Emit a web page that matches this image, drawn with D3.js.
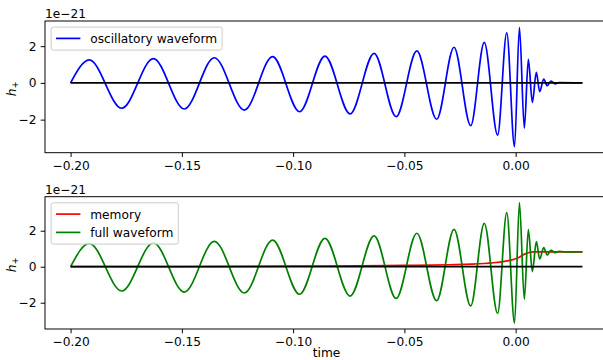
<!DOCTYPE html>
<html>
<head>
<meta charset="utf-8">
<script src="https://cdn.jsdelivr.net/npm/d3@7"></script>
<style>
  html, body { margin: 0; padding: 0; background: #fff; }
  svg { display: block; font-family: "DejaVu Sans", sans-serif; }
</style>
</head>
<body>
<div id="chart"></div>
<script>
// ---------------- data ----------------
// times of the extrema of the oscillatory waveform (plus start and flat tail)
const oscTimes = [-0.2, -0.1916, -0.1770, -0.1628, -0.1489, -0.1354, -0.1219, -0.1092, -0.0971,
  -0.0857, -0.0744, -0.0636, -0.0537, -0.0444, -0.0355, -0.0277, -0.0202, -0.0141, -0.0081,
  -0.0040, -0.0005, 0.0017, 0.0039, 0.0057, 0.0075, 0.0093, 0.0108, 0.0126, 0.0142, 0.0159,
  0.0177, 0.0195, 0.030];
// oscillatory waveform values (units of 1e-21)
const oscValues = [0, 1.25, -1.38, 1.32, -1.42, 1.37, -1.48, 1.43, -1.57,
  1.46, -1.69, 1.61, -1.84, 1.74, -1.98, 1.94, -2.33, 2.21, -2.84,
  2.73, -3.47, 3.03, -2.47, 1.28, -1.06, 0.58, -0.48, 0.21, -0.15, 0.10,
  -0.05, 0.02, 0];
// full waveform values (same extremum times, units of 1e-21)
const fullTimes = [-0.2, -0.1916, -0.1770, -0.1628, -0.1489, -0.1354, -0.1219, -0.1092, -0.0971,
  -0.0857, -0.0744, -0.0636, -0.0537, -0.0444, -0.0355, -0.0277, -0.0202, -0.0141, -0.0081,
  -0.0040, -0.0005, 0.0017, 0.0039, 0.0057, 0.0075, 0.0093, 0.0108, 0.0126, 0.0142, 0.0159,
  0.0177, 0.0195, 0.022, 0.030];
const fullValues = [0, 1.30, -1.35, 1.33, -1.41, 1.41, -1.46, 1.48, -1.53,
  1.58, -1.63, 1.71, -1.76, 1.86, -1.89, 2.08, -2.18, 2.41, -2.60,
  3.01, -3.13, 3.56, -1.81, 2.06, -0.27, 1.39, 0.43, 1.06, 0.65, 0.93,
  0.78, 0.85, 0.83, 0.83];
// memory
const memTimes  = [-0.2, -0.15, -0.1, -0.07, -0.05, -0.03, -0.02, -0.01, -0.005, -0.002, 0.0, 0.002, 0.004, 0.006, 0.008, 0.012, 0.03];
const memValues = [0, 0.01, 0.03, 0.05, 0.07, 0.11, 0.14, 0.22, 0.30, 0.37, 0.44, 0.56, 0.70, 0.79, 0.82, 0.83, 0.83];
// zero reference line
const zeroTimes = [-0.2, 0.03];
const zeroValues = [0, 0];

// axes settings
const xDomain = [-0.2115, 0.0415];
const xTicks = [-0.20, -0.15, -0.10, -0.05, 0.00];
const yTicks = [-2, 0, 2];
const yDomainTop = [-3.80, 3.37];
const yDomainBottom = [-3.46, 3.89];
const offsetText = "1e\u221221";

// ---------------- layout ----------------
const W = 603, H = 360;
const FS = 12.2;         // font size px
const LW = 1.7;          // line width
const left = 45, right = 608;
const panels = [
  { top: 21, bottom: 152.7, yDomain: yDomainTop,
    series: [{ t: oscTimes, v: oscValues, color: "#0000ff", label: "oscillatory waveform" }] },
  { top: 196.7, bottom: 329, yDomain: yDomainBottom,
    series: [{ t: memTimes, v: memValues, color: "#ff0000", label: "memory" },
             { t: fullTimes, v: fullValues, color: "#008000", label: "full waveform" }] }
];

const svg = d3.select("#chart").append("svg").attr("width", W).attr("height", H);
const fmtX = d => d3.format(".2f")(d).replace("-", "\u2212");
const fmtY = d => String(d).replace("-", "\u2212");

const x = d3.scaleLinear().domain(xDomain).range([left, right]);

panels.forEach((p, pi) => {
  const y = d3.scaleLinear().domain(p.yDomain).range([p.bottom, p.top]);
  const g = svg.append("g");
  const clipId = "clip" + pi;
  svg.append("clipPath").attr("id", clipId).append("rect")
    .attr("x", left).attr("y", p.top).attr("width", right - left).attr("height", p.bottom - p.top);

  const line = d3.line().x(d => x(d[0])).y(d => y(d[1])).curve(d3.curveMonotoneX);
  const plot = g.append("g").attr("clip-path", `url(#${clipId})`);
  p.series.forEach(s => {
    plot.append("path").datum(s.t.map((t, i) => [t, s.v[i]]))
      .attr("d", line).attr("fill", "none").attr("stroke", s.color)
      .attr("stroke-width", LW).attr("stroke-linejoin", "round").attr("stroke-linecap", "butt");
  });
  plot.append("path").datum(zeroTimes.map((t, i) => [t, zeroValues[i]]))
    .attr("d", d3.line().x(d => x(d[0])).y(d => y(d[1])))
    .attr("fill", "none").attr("stroke", "#000").attr("stroke-width", LW);

  // axes
  const xAxis = d3.axisBottom(x).tickValues(xTicks).tickFormat(fmtX).tickSizeInner(4.3).tickSizeOuter(0).tickPadding(4.3);
  const gx = g.append("g").attr("transform", `translate(0,${p.bottom})`).call(xAxis);
  const yAxis = d3.axisLeft(y).tickValues(yTicks).tickFormat(fmtY).tickSizeInner(4.3).tickSizeOuter(0).tickPadding(4.3);
  const gy = g.append("g").attr("transform", `translate(${left},0)`).call(yAxis);
  [gx, gy].forEach(a => {
    a.select(".domain").remove();
    a.selectAll("line").attr("stroke", "#000").attr("stroke-width", 0.98);
    a.selectAll("text").attr("font-size", FS).attr("fill", "#000").attr("font-family", "DejaVu Sans");
  });

  // spines
  g.append("rect").attr("x", left).attr("y", p.top).attr("width", right - left).attr("height", p.bottom - p.top)
    .attr("fill", "none").attr("stroke", "#000").attr("stroke-width", 0.98);

  // offset text
  g.append("text").attr("x", left).attr("y", p.top - 2.6).attr("font-size", FS).attr("fill", "#000").text(offsetText);

  // y label h_+
  const yl = g.append("text")
    .attr("transform", `translate(15.5,${(p.top + p.bottom) / 2 + 2}) rotate(-90)`)
    .attr("text-anchor", "middle").attr("font-size", FS).attr("fill", "#000");
  yl.append("tspan").attr("font-style", "italic").text("h");
  yl.append("tspan").attr("font-size", FS * 0.7).attr("dy", 2.6).text("+");

  // legend
  const pad = 4.9, handle = 24.4, textPad = 9.8, rowH = 18.3;
  const lx = left + 6.1, ly = p.top + 6.1;
  const lg = g.append("g");
  const box = lg.append("rect").attr("x", lx).attr("y", ly).attr("rx", 2.4).attr("ry", 2.4)
    .attr("fill", "#fff").attr("fill-opacity", 0.8).attr("stroke", "#cccccc").attr("stroke-width", 1);
  let maxW = 0;
  p.series.forEach((s, i) => {
    const cy = ly + pad + 6.4 + i * rowH;
    lg.append("line").attr("x1", lx + pad).attr("x2", lx + pad + handle).attr("y1", cy).attr("y2", cy)
      .attr("stroke", s.color).attr("stroke-width", LW);
    const t = lg.append("text").attr("x", lx + pad + handle + textPad).attr("y", cy + 4.4)
      .attr("font-size", FS).attr("fill", "#000").text(s.label);
    maxW = Math.max(maxW, t.node().getComputedTextLength());
  });
  box.attr("width", pad * 2 + handle + textPad + maxW)
     .attr("height", pad * 2 + 13.2 + (p.series.length - 1) * rowH);
});

// x label
svg.append("text").attr("x", (left + right) / 2).attr("y", 357).attr("text-anchor", "middle")
  .attr("font-size", FS).attr("fill", "#000").text("time");
</script>
</body>
</html>
